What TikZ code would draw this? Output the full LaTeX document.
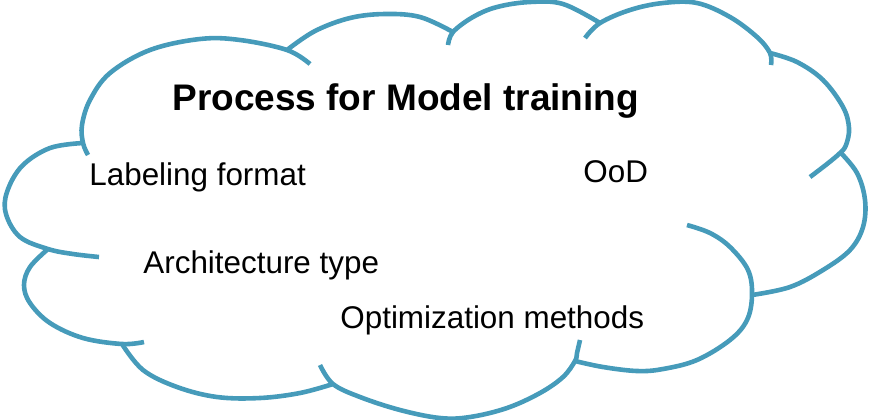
\documentclass[tikz,border=0pt]{standalone}
\usepackage{fontspec}
\setmainfont{Liberation Sans}
\definecolor{cloudblue}{RGB}{70, 155, 186}
\usepackage{tikz}
\usetikzlibrary{positioning}

\begin{document}
\begin{tikzpicture}[
  x=0.5pt, y=-0.5pt,
  cloudline/.style={draw=cloudblue, line width=2.3pt, smooth, tension=0.6},
  ttl/.style={anchor=base west, inner sep=0pt, font=\fontsize{18.5}{22}\selectfont\bfseries},
  lbl/.style={anchor=base west, inner sep=0pt, font=\fontsize{15.7}{19}\selectfont}
]
  \useasboundingbox (0,0) rectangle (871,419);
  % cloud lobes, each with its inner hook
  \draw[cloudline] plot coordinates {(83,143) (50,148) (22,166) (7,192) (6,214) (20,237) (48,249) (73,254) (99,257)};
  \draw[cloudline] plot coordinates {(88,155) (83,143) (82,125) (90,100) (110,73) (150,50) (200,39) (240,40) (287,50) (310,64)};
  \draw[cloudline] plot coordinates {(287,50) (315,31) (350,18) (385,14) (420,17) (453,32)};
  \draw[cloudline] plot coordinates {(448,45) (453,32) (473,17) (497,7) (530,2) (563,4) (600,23)};
  \draw[cloudline] plot coordinates {(585,38) (600,23) (630,10) (663,3) (697,3) (730,17) (757,37) (770,53) (771,65)};
  \draw[cloudline] plot coordinates {(770,53) (797,62) (823,80) (843,107) (849,128) (846,145) (840,153) (827,164) (810,177)};
  \draw[cloudline] plot coordinates {(840,152) (857,173) (865,200) (863,227) (850,250) (823,270) (790,287) (752,295)};
  \draw[cloudline] plot coordinates {(687,225) (710,233) (730,247) (748,270) (752,295) (747,320) (730,340) (697,360) (663,369) (637,371) (603,367) (575,361)};
  \draw[cloudline] plot coordinates {(580,340) (577,353) (575,361) (563,377) (540,393) (507,408) (470,417) (440,418) (400,410) (360,397) (333,384) (320,365)};
  \draw[cloudline] plot coordinates {(333,384) (300,393) (260,398) (217,397) (177,387) (143,370) (122,344)};
  \draw[cloudline] plot coordinates {(144,342) (122,344) (83,338) (50,323) (30,303) (24,285) (30,267) (48,249)};
  % texts
  \node[ttl] (title) at (172,110) {Process for Model training};
  \node[lbl] (labeling) at (89,185) {Labeling format};
  \node[lbl] (ood) at (583,182) {OoD};
  \node[lbl] (arch) at (143,273) {Architecture type};
  \node[lbl] (optim) at (340,328) {Optimization methods};
\end{tikzpicture}
\end{document}
